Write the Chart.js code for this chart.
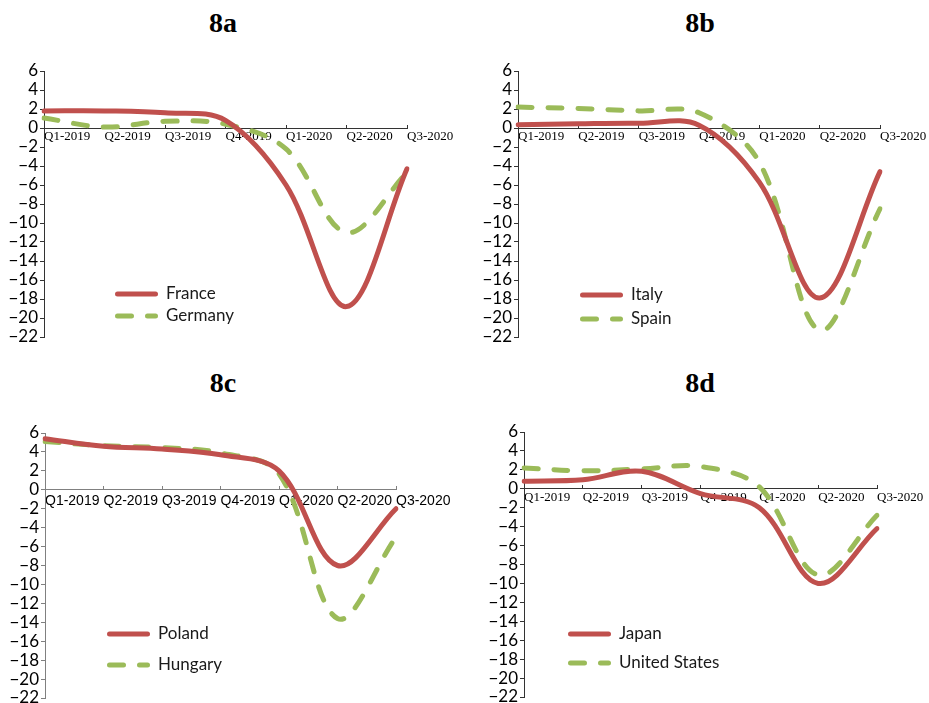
<!DOCTYPE html>
<html><head><meta charset="utf-8">
<script src="https://cdn.jsdelivr.net/npm/chart.js@4.4.1/dist/chart.umd.min.js"></script>
<style>
html,body{margin:0;padding:0;background:#fff;width:929px;height:703px;overflow:hidden;position:relative}
.t{position:absolute;width:120px;text-align:center;font:bold 28px "Liberation Serif",serif;line-height:28px;color:#000}
canvas{position:absolute}
</style></head><body>
<div class="t" style="left:163px;top:9px">8a</div>
<div class="t" style="left:640px;top:9px">8b</div>
<div class="t" style="left:163px;top:369px">8c</div>
<div class="t" style="left:640px;top:369px">8d</div>
<canvas id="ca" width="477" height="350" style="left:0;top:0"></canvas>
<canvas id="cb" width="485" height="350" style="left:465px;top:0"></canvas>
<canvas id="cc" width="466" height="352" style="left:0;top:360px"></canvas>
<canvas id="cd" width="482" height="352" style="left:465px;top:360px"></canvas>
<script>
const categories = ['Q1-2019','Q2-2019','Q3-2019','Q4-2019','Q1-2020','Q2-2020','Q3-2020'];
const yTicks = [-22,-20,-18,-16,-14,-12,-10,-8,-6,-4,-2,0,2,4,6];
const yTickLabels = ['\u221222','\u221220','\u221218','\u221216','\u221214','\u221212','\u221210','\u22128','\u22126','\u22124','\u22122','0','2','4','6'];

const france  = [1.8, 1.8, 1.6, 0.8, -6.0, -18.8, -4.3];
const germany = [1.05, 0.1, 0.7, 0.4, -2.2, -11.0, -4.7];
const italy   = [0.35, 0.45, 0.5, 0.3, -5.7, -17.9, -4.6];
const spain   = [2.2, 2.05, 1.8, 1.6, -3.6, -21.3, -8.5];
const poland  = [5.4, 4.6, 4.3, 3.7, 2.0, -8.0, -2.0];
const hungary = [5.1, 4.65, 4.45, 3.9, 1.7, -13.6, -5.0];
const japan   = [0.8, 0.95, 1.85, -0.5, -2.0, -10.0, -4.2];
const unitedStates = [2.2, 1.9, 2.1, 2.35, 0.2, -9.1, -2.8];

const RED = '#C0504D', GREEN = '#9BBB59';

const cornerLegend = {
  id: 'cornerLegend',
  afterDraw(chart, args, opts) {
    const {ctx, chartArea} = chart;
    chart.data.datasets.forEach((ds, i) => {
      const y = chartArea.top + opts.rows[i];
      const x0 = chartArea.left + opts.dx;
      ctx.save();
      ctx.strokeStyle = ds.borderColor;
      ctx.lineWidth = ds.borderWidth;
      ctx.lineCap = 'round';
      ctx.setLineDash(ds.borderDash || []);
      ctx.beginPath();
      ctx.moveTo(x0 + 2.5, y);
      ctx.lineTo(x0 + opts.len - 2.5, y);
      ctx.stroke();
      ctx.setLineDash([]);
      ctx.fillStyle = '#1a1a1a';
      ctx.font = '17px Lato';
      ctx.textBaseline = 'middle';
      ctx.textAlign = 'left';
      ctx.fillText(ds.label, x0 + opts.len + 8, y);
      ctx.restore();
    });
  }
};

function makeChart(id, names, s1, s2, cfg) {
  return new Chart(document.getElementById(id), {
    type: 'line',
    data: {
      labels: categories,
      datasets: [
        {label: names[0], data: s1, borderColor: RED, backgroundColor: RED, borderWidth: 5,
         borderCapStyle: 'round', borderJoinStyle: 'round', pointRadius: 0, tension: 0.35, fill: false},
        {label: names[1], data: s2, borderColor: GREEN, backgroundColor: GREEN, borderWidth: 5,
         borderDash: [14, 16], borderCapStyle: 'round', borderJoinStyle: 'round', pointRadius: 0, tension: 0.35, fill: false}
      ]
    },
    options: {
      responsive: false,
      animation: false,
      layout: {padding: {left: 0, top: cfg.padTop, right: 70, bottom: cfg.padBottom}},
      plugins: {
        legend: {display: false},
        title: {display: false},
        tooltip: {enabled: false},
        cornerLegend: {dx: cfg.lx, rows: cfg.rows, len: 43}
      },
      scales: {
        x: {
          type: 'category',
          position: {y: 0},
          offset: false,
          grid: {drawOnChartArea: false, drawTicks: true, tickLength: -4, color: cfg.axis, lineWidth: 1},
          border: {display: true, color: cfg.axis, width: 1},
          ticks: {align: 'start', autoSkip: false, maxRotation: 0, minRotation: 0, padding: cfg.xPad,
                  color: '#000', font: {family: cfg.xFamily, size: cfg.xSize}}
        },
        y: {
          type: 'linear',
          min: -22, max: 6,
          position: 'left',
          afterFit(s) { s.width = cfg.yWidth; },
          afterBuildTicks(s) { s.ticks = yTicks.map(v => ({value: v})); },
          grid: {drawOnChartArea: false, drawTicks: true, tickLength: 4, color: cfg.axis, lineWidth: 1},
          border: {display: true, color: cfg.axis, width: 1},
          ticks: {autoSkip: false, padding: 2, color: '#000', font: {family: 'Lato', size: 17},
                  callback: (v) => yTickLabels[yTicks.indexOf(v)]}
        }
      }
    },
    plugins: [cornerLegend]
  });
}

makeChart('ca', ['France', 'Germany'], france, germany,
  {padTop: 71, padBottom: 13, yWidth: 44, axis: '#333333', xFamily: '"Liberation Serif", serif', xSize: 13, xPad: 5, lx: 71, rows: [223, 245]});
makeChart('cb', ['Italy', 'Spain'], italy, spain,
  {padTop: 71, padBottom: 13, yWidth: 53, axis: '#333333', xFamily: '"Liberation Serif", serif', xSize: 13, xPad: 5, lx: 62, rows: [224, 248]});
makeChart('cc', ['Poland', 'Hungary'], poland, hungary,
  {padTop: 73, padBottom: 14, yWidth: 45, axis: '#808080', xFamily: '"Liberation Sans", sans-serif', xSize: 14, xPad: 7, lx: 62, rows: [201, 232]});
makeChart('cd', ['Japan', 'United States'], japan, unitedStates,
  {padTop: 72, padBottom: 15, yWidth: 59, axis: '#333333', xFamily: '"Liberation Serif", serif', xSize: 13, xPad: 5, lx: 44, rows: [202, 231]});
</script>
</body></html>
